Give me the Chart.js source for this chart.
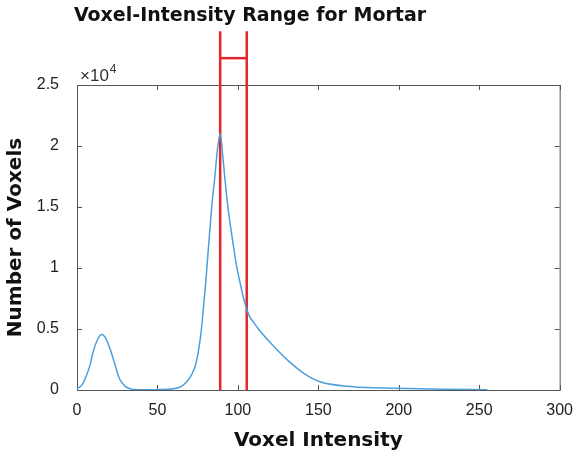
<!DOCTYPE html>
<html>
<head>
<meta charset="utf-8">
<script src="https://cdn.jsdelivr.net/npm/chart.js@4.4.1/dist/chart.umd.min.js"></script>
<style>
  html, body { margin: 0; padding: 0; background: #fff; }
  #wrap { width: 576px; height: 455px; }
</style>
</head>
<body>
<div id="wrap"><canvas id="chart" width="576" height="455"></canvas></div>
<script>
// histogram curve (voxel intensity vs count)
const intensity = [0, 3, 5, 8, 10, 13, 15.5, 18, 21, 24, 26.5, 30, 33, 40, 50, 60, 65, 68, 71, 74, 77, 78.5, 80, 83.6, 85.7, 87.3, 89, 90.8, 91.8, 93.9, 96, 99, 101.5, 104, 107, 110, 114, 120.5, 130.7, 141, 151, 171.6, 198, 225, 255];
const voxels = [100, 400, 900, 2000, 3100, 4200, 4550, 4200, 3200, 1900, 900, 300, 100, 20, 30, 100, 300, 650, 1200, 2200, 4600, 6600, 8800, 14800, 17500, 19700, 21000, 18900, 17500, 14900, 12900, 10300, 8700, 7300, 6100, 5500, 4800, 3840, 2470, 1370, 680, 270, 140, 70, 20];

// mortar range markers
const rangeLow = 89;
const rangeHigh = 105.5;
const markerTop = 29400;
const bracketLevel = 27200;

const xTicks = [0, 50, 100, 150, 200, 250, 300];
const yTicks = [0, 5000, 10000, 15000, 20000, 25000];

const boxPlugin = {
  id: "box",
  beforeDatasetsDraw(chart) {
    const { ctx, chartArea: a, scales } = chart;
    ctx.save();
    ctx.strokeStyle = "#555";
    ctx.lineWidth = 1;
    ctx.strokeRect(a.left + 0.5, a.top + 0.5, a.right - a.left, a.bottom - a.top);
    ctx.beginPath();
    xTicks.forEach(v => {
      const px = Math.round(scales.x.getPixelForValue(v)) + 0.5;
      ctx.moveTo(px, a.bottom); ctx.lineTo(px, a.bottom - 5);
      ctx.moveTo(px, a.top); ctx.lineTo(px, a.top + 5);
    });
    yTicks.forEach(v => {
      const py = Math.round(scales.y.getPixelForValue(v)) + 0.5;
      ctx.moveTo(a.left, py); ctx.lineTo(a.left + 5, py);
      ctx.moveTo(a.right, py); ctx.lineTo(a.right - 5, py);
    });
    ctx.stroke();
    ctx.restore();
  },
  afterDraw(chart) {
    const { ctx, chartArea: a } = chart;
    ctx.save();
    ctx.fillStyle = "#111";
    ctx.textBaseline = "alphabetic";
    ctx.font = "bold 19px 'DejaVu Sans'";
    ctx.textAlign = "center";
    ctx.fillText("Voxel-Intensity Range for Mortar", 250, 21);
    ctx.fillStyle = "#333";
    ctx.textAlign = "left";
    ctx.font = "17px 'Liberation Sans'";
    ctx.fillText("\u00d710", a.left + 3, a.top - 4);
    const w = ctx.measureText("\u00d710").width;
    ctx.font = "12px 'Liberation Sans'";
    ctx.fillText("4", a.left + 3 + w + 1, a.top - 12);
    ctx.restore();
  }
};

new Chart(document.getElementById("chart"), {
  type: "scatter",
  data: {
    datasets: [
      {
        data: intensity.map((x, i) => ({ x, y: voxels[i] })),
        showLine: true,
        borderColor: "#4a9fdc",
        borderWidth: 1.5,
        pointRadius: 0,
        cubicInterpolationMode: "monotone"
      },
      {
        data: [{ x: rangeLow, y: 0 }, { x: rangeLow, y: markerTop }],
        showLine: true, borderColor: "#e3262d", borderWidth: 2.5, pointRadius: 0, clip: false
      },
      {
        data: [{ x: rangeHigh, y: 0 }, { x: rangeHigh, y: markerTop }],
        showLine: true, borderColor: "#e3262d", borderWidth: 2.5, pointRadius: 0, clip: false
      },
      {
        data: [{ x: rangeLow, y: bracketLevel }, { x: rangeHigh, y: bracketLevel }],
        showLine: true, borderColor: "#e3262d", borderWidth: 2.5, pointRadius: 0, clip: false
      }
    ]
  },
  options: {
    responsive: false,
    animation: false,
    layout: { padding: { top: 85, right: 13, left: 0, bottom: 0 } },
    plugins: { legend: { display: false }, tooltip: { enabled: false } },
    scales: {
      x: {
        type: "linear",
        min: 0, max: 300,
        afterBuildTicks: s => { s.ticks = xTicks.map(v => ({ value: v })); },
        grid: { display: false },
        border: { display: false },
        ticks: { color: "#222", font: { family: "Liberation Sans", size: 16 }, padding: 3, maxRotation: 0 },
        title: { display: true, text: "Voxel Intensity", color: "#111", font: { family: "DejaVu Sans", size: 20, weight: "bold" }, padding: { top: 8, bottom: 2 } },
        afterFit: s => { s.height = 65; }
      },
      y: {
        min: 0, max: 25000,
        afterBuildTicks: s => { s.ticks = yTicks.map(v => ({ value: v })); },
        grid: { display: false },
        border: { display: false },
        ticks: { color: "#222", font: { family: "Liberation Sans", size: 16 }, padding: 10, callback: v => String(v / 10000) },
        title: { display: true, text: "Number of Voxels", color: "#111", font: { family: "DejaVu Sans", size: 20, weight: "bold" }, padding: { bottom: 2 } },
        afterFit: s => { s.width = 77; }
      }
    }
  },
  plugins: [boxPlugin]
});
</script>
</body>
</html>
